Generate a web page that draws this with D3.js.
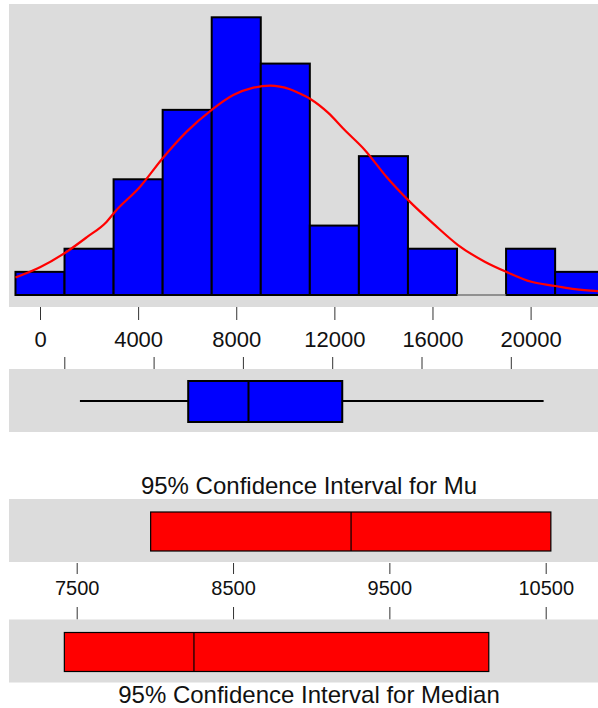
<!DOCTYPE html>
<html>
<head>
<meta charset="utf-8">
<script src="https://cdn.jsdelivr.net/npm/d3@7.9.0/dist/d3.min.js"></script>
<style>
  body { margin: 0; background: #fff; }
  svg { display: block; font-family: "Liberation Sans", Arial, sans-serif; }
  .tick line { stroke: #333; }
  .tick text { fill: #111; }
</style>
</head>
<body>
<svg id="chart" width="598" height="708"></svg>
<script>
// histogram bins (start of each 2000-wide bin) and counts
const binStarts = [-1000, 1000, 3000, 5000, 7000, 9000, 11000, 13000, 15000, 17000, 19000, 21000];
const binCounts = [1, 2, 5, 8, 12, 10, 3, 6, 2, 0, 2, 1];
const binWidth = 2000;
const histTicks = [0, 4000, 8000, 12000, 16000, 20000];

// fitted normal curve (x value, count)
const curveX = [-1000, 0, 1090, 1900, 2720, 3060, 4080, 5000, 5980, 7000, 7880, 8700, 9380, 10190,
  10520, 11020, 11740, 12420, 13240, 14120, 15000, 16090, 17040, 18130, 18990, 20030, 21020, 21800, 22750];
const curveCount = [0.76, 1.2, 1.87, 2.49, 3.17, 3.6, 4.68, 5.91, 7.06, 8.0, 8.64, 8.96, 9.05, 8.89,
  8.74, 8.47, 7.88, 7.13, 6.27, 5.11, 4.11, 3.03, 2.16, 1.44, 1.01, 0.57, 0.39, 0.25, 0.17];

// boxplot: whisker low, Q1, median, Q3, whisker high
const boxValues = [700, 5550, 8250, 12450, 21470];

// confidence intervals: low, centre, high
const muCI = [7973, 9255, 10533];
const medianCI = [7421, 8250, 10136];
const ciTicks = [7500, 8500, 9500, 10500];

const svg = d3.select("#chart");
const grey = "#dcdcdc";

// ---------- histogram ----------
const xHist = d3.scaleLinear().domain([0, 20000]).range([40, 530.6]);
const yHist = d3.scaleLinear().domain([0, 12]).range([295, 17.3]);

svg.append("clipPath").attr("id", "histClip")
  .append("rect").attr("x", 9).attr("y", 4).attr("width", 589).attr("height", 303);

svg.append("rect").attr("x", 9).attr("y", 4).attr("width", 589).attr("height", 303)
  .attr("fill", grey);

const hist = svg.append("g").attr("clip-path", "url(#histClip)");

hist.selectAll("rect.bar")
  .data(binStarts)
  .join("rect")
  .attr("class", "bar")
  .attr("x", d => xHist(d))
  .attr("width", d => xHist(d + binWidth) - xHist(d))
  .attr("y", (d, i) => yHist(binCounts[i]))
  .attr("height", (d, i) => yHist(0) - yHist(binCounts[i]))
  .attr("fill", "#0000ff")
  .attr("stroke", "#000")
  .attr("stroke-width", 2);

// empty bins still show a faint baseline
hist.selectAll("line.empty")
  .data(binStarts.filter((d, i) => binCounts[i] === 0))
  .join("line")
  .attr("class", "empty")
  .attr("x1", d => xHist(d)).attr("x2", d => xHist(d + binWidth))
  .attr("y1", yHist(0)).attr("y2", yHist(0))
  .attr("stroke", "#777").attr("stroke-width", 1.5);

const line = d3.line()
  .x((d, i) => xHist(d))
  .y((d, i) => yHist(curveCount[i]))
  .curve(d3.curveMonotoneX);

hist.append("path")
  .attr("d", line(curveX))
  .attr("fill", "none")
  .attr("stroke", "#ff0000")
  .attr("stroke-width", 2.2);

const histAxis = svg.append("g")
  .attr("transform", "translate(0,307)")
  .call(d3.axisBottom(xHist).tickValues(histTicks).tickSize(13).tickPadding(11).tickFormat(d3.format("d")));
histAxis.select(".domain").remove();
histAxis.selectAll("text").attr("font-size", 22).attr("font-family", null);

// ---------- boxplot ----------
const xBox = d3.scaleLinear().domain([0, 20000]).range([64.3, 510.8]);

const boxAxis = svg.append("g")
  .attr("transform", "translate(0,369)")
  .call(d3.axisTop(xBox).tickValues(histTicks).tickSize(12).tickFormat(""));
boxAxis.select(".domain").remove();

svg.append("rect").attr("x", 9).attr("y", 369).attr("width", 589).attr("height", 63)
  .attr("fill", grey);

const [wLo, q1, med, q3, wHi] = boxValues;
svg.append("line")
  .attr("x1", xBox(wLo)).attr("x2", xBox(wHi))
  .attr("y1", 401).attr("y2", 401)
  .attr("stroke", "#000").attr("stroke-width", 2);
svg.append("rect")
  .attr("x", xBox(q1)).attr("width", xBox(q3) - xBox(q1))
  .attr("y", 381).attr("height", 41)
  .attr("fill", "#0000ff").attr("stroke", "#000").attr("stroke-width", 2);
svg.append("line")
  .attr("x1", xBox(med)).attr("x2", xBox(med))
  .attr("y1", 381).attr("y2", 422)
  .attr("stroke", "#000").attr("stroke-width", 2);

// ---------- confidence intervals ----------
const xCI = d3.scaleLinear().domain([7500, 10500]).range([76.7, 545.7]);

function ciPanel(vals, top) {
  svg.append("rect").attr("x", 9).attr("y", top).attr("width", 589).attr("height", 63)
    .attr("fill", grey);
  svg.append("rect")
    .attr("x", xCI(vals[0])).attr("width", xCI(vals[2]) - xCI(vals[0]))
    .attr("y", top + 13).attr("height", 39)
    .attr("fill", "#ff0000").attr("stroke", "#000").attr("stroke-width", 1.2);
  svg.append("line")
    .attr("x1", xCI(vals[1])).attr("x2", xCI(vals[1]))
    .attr("y1", top + 13).attr("y2", top + 52)
    .attr("stroke", "#000").attr("stroke-width", 1.2);
}

svg.append("text")
  .attr("x", 309).attr("y", 493.5)
  .attr("text-anchor", "middle")
  .attr("font-size", 24)
  .attr("fill", "#111")
  .text("95% Confidence Interval for Mu");

ciPanel(muCI, 499);

const ciAxis = svg.append("g")
  .attr("transform", "translate(0,563)")
  .call(d3.axisBottom(xCI).tickValues(ciTicks).tickSize(11).tickPadding(7).tickFormat(d3.format("d")));
ciAxis.select(".domain").remove();
ciAxis.selectAll("text").attr("font-size", 20).attr("font-family", null);

const ciAxis2 = svg.append("g")
  .attr("transform", "translate(0,619.5)")
  .call(d3.axisTop(xCI).tickValues(ciTicks).tickSize(12.5).tickFormat(""));
ciAxis2.select(".domain").remove();

ciPanel(medianCI, 619.5);

svg.append("text")
  .attr("x", 309).attr("y", 702.5)
  .attr("text-anchor", "middle")
  .attr("font-size", 24)
  .attr("fill", "#111")
  .text("95% Confidence Interval for Median");
</script>
</body>
</html>
